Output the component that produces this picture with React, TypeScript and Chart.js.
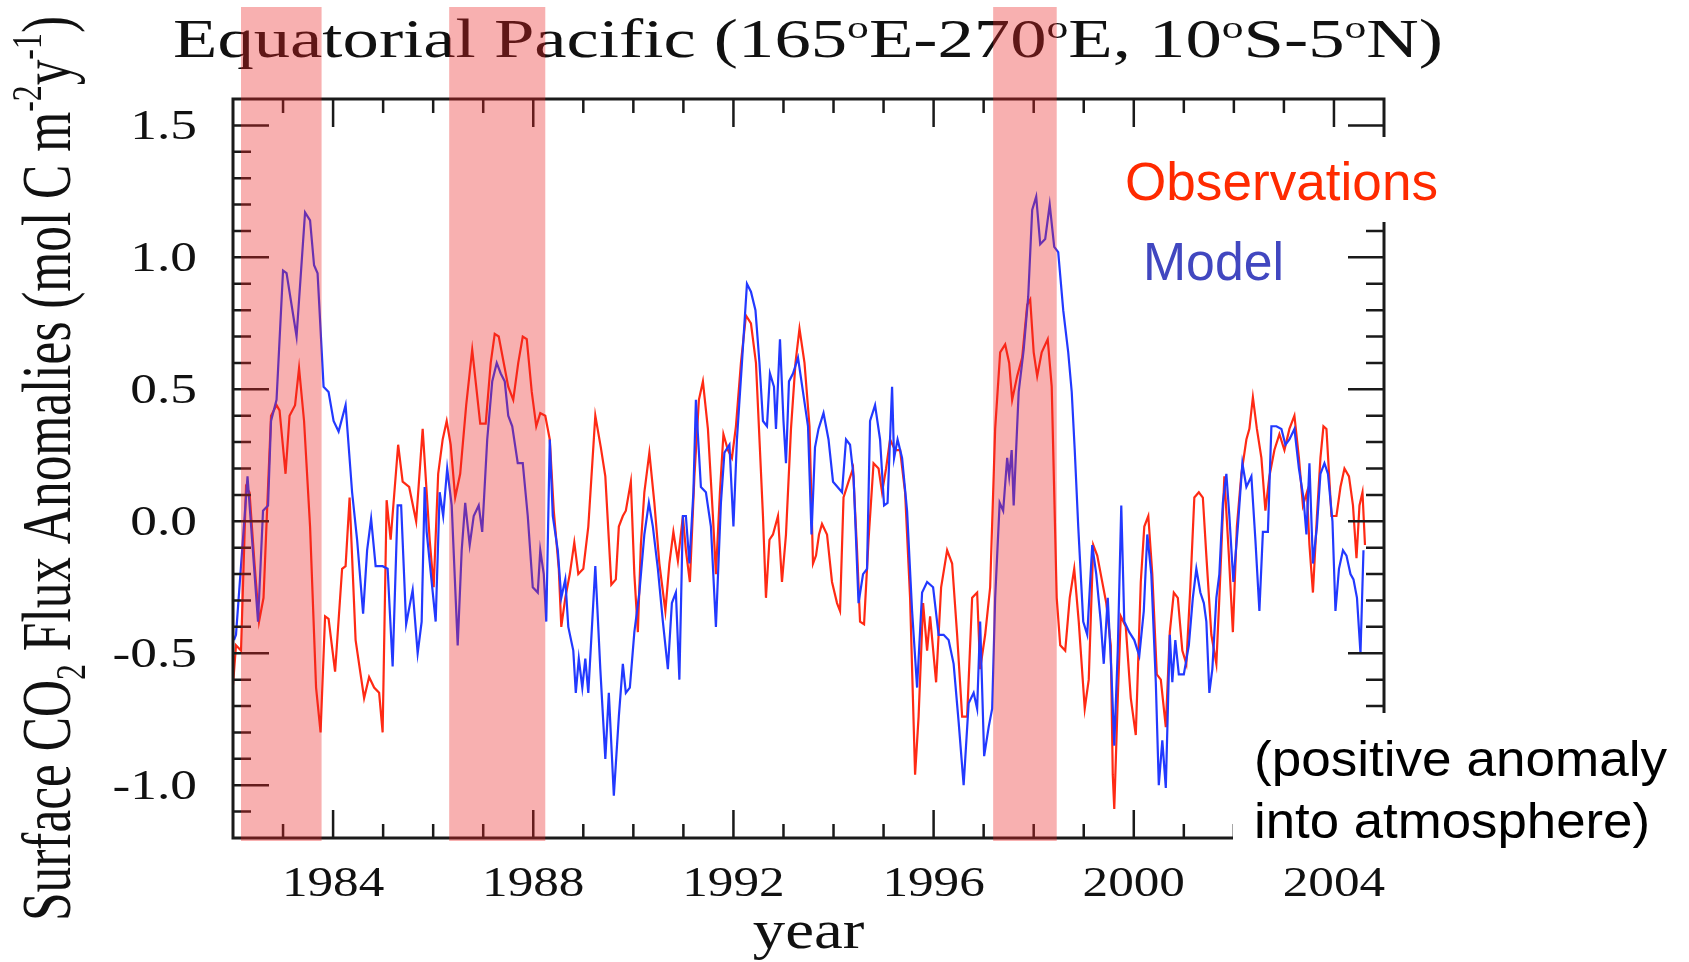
import React, { useEffect, useRef } from 'react';
import { Chart, registerables } from 'chart.js';

Chart.register(...registerables);

// ---------- data ----------
const xRange = [1982, 2005];
const yRange = [-1.2, 1.6];
const xTickLabels = ['1984', '1988', '1992', '1996', '2000', '2004'];
const yTickLabels = ['-1.0', '-0.5', '0.0', '0.5', '1.0', '1.5'];
const elNinoStart = [1982.16, 1986.32, 1997.19];
const elNinoEnd = [1983.77, 1988.24, 1998.46];

const observations: [number, number][] = [
  [1982.0, -0.62], [1982.06, -0.47], [1982.16, -0.49], [1982.26, 0.13], [1982.33, 0.11], [1982.43, -0.16],
  [1982.52, -0.38], [1982.61, -0.29], [1982.7, 0.13], [1982.76, 0.4], [1982.87, 0.44], [1982.93, 0.42],
  [1983.05, 0.18], [1983.13, 0.4], [1983.24, 0.44], [1983.32, 0.58], [1983.42, 0.38], [1983.54, -0.02],
  [1983.66, -0.63], [1983.75, -0.8], [1983.84, -0.36], [1983.91, -0.37], [1984.04, -0.57], [1984.18, -0.18],
  [1984.25, -0.17], [1984.33, 0.09], [1984.45, -0.45], [1984.55, -0.58], [1984.62, -0.67], [1984.72, -0.59],
  [1984.82, -0.63], [1984.92, -0.65], [1984.99, -0.8], [1985.07, 0.08], [1985.15, -0.07], [1985.3, 0.29],
  [1985.39, 0.15], [1985.52, 0.13], [1985.66, 0.0], [1985.79, 0.35], [1985.87, 0.11], [1985.93, -0.07],
  [1986.01, -0.25], [1986.1, 0.18], [1986.19, 0.31], [1986.27, 0.38], [1986.35, 0.29], [1986.44, 0.09],
  [1986.54, 0.18], [1986.66, 0.44], [1986.78, 0.65], [1986.86, 0.51], [1986.94, 0.37], [1987.05, 0.37],
  [1987.15, 0.6], [1987.23, 0.71], [1987.31, 0.7], [1987.4, 0.61], [1987.5, 0.51], [1987.6, 0.46],
  [1987.7, 0.6], [1987.79, 0.7], [1987.87, 0.69], [1987.97, 0.49], [1988.06, 0.36], [1988.14, 0.41],
  [1988.24, 0.4], [1988.33, 0.31], [1988.41, 0.04], [1988.51, -0.18], [1988.56, -0.4], [1988.64, -0.29],
  [1988.73, -0.2], [1988.82, -0.08], [1988.9, -0.2], [1989.0, -0.18], [1989.1, -0.02], [1989.24, 0.4],
  [1989.35, 0.28], [1989.44, 0.17], [1989.56, -0.24], [1989.65, -0.22], [1989.71, -0.02], [1989.79, 0.02],
  [1989.85, 0.04], [1989.95, 0.15], [1990.02, -0.2], [1990.09, -0.42], [1990.15, -0.09], [1990.22, 0.11],
  [1990.32, 0.26], [1990.42, 0.07], [1990.52, -0.16], [1990.64, -0.34], [1990.72, -0.16], [1990.8, -0.04],
  [1990.89, -0.15], [1990.99, 0.02], [1991.05, -0.11], [1991.13, -0.23], [1991.22, 0.17], [1991.31, 0.46],
  [1991.39, 0.53], [1991.49, 0.35], [1991.59, 0.02], [1991.65, -0.2], [1991.73, 0.11], [1991.8, 0.33],
  [1991.89, 0.27], [1991.97, 0.24], [1992.05, 0.36], [1992.15, 0.6], [1992.25, 0.78], [1992.35, 0.75],
  [1992.45, 0.6], [1992.53, 0.27], [1992.59, 0.02], [1992.65, -0.29], [1992.72, -0.07], [1992.79, -0.05],
  [1992.89, 0.02], [1992.97, -0.23], [1993.05, -0.05], [1993.15, 0.35], [1993.24, 0.6], [1993.32, 0.73],
  [1993.42, 0.6], [1993.52, 0.36], [1993.59, -0.16], [1993.65, -0.13], [1993.71, -0.05], [1993.77, -0.01],
  [1993.87, -0.05], [1993.97, -0.23], [1994.07, -0.31], [1994.13, -0.34], [1994.2, 0.09], [1994.3, 0.15],
  [1994.39, 0.2], [1994.47, -0.11], [1994.53, -0.38], [1994.61, -0.39], [1994.7, -0.07], [1994.8, 0.22],
  [1994.9, 0.2], [1994.97, 0.11], [1995.05, 0.2], [1995.13, 0.31], [1995.23, 0.27], [1995.33, 0.27],
  [1995.43, 0.11], [1995.53, -0.29], [1995.63, -0.96], [1995.7, -0.74], [1995.79, -0.31], [1995.87, -0.49],
  [1995.93, -0.36], [1996.05, -0.61], [1996.15, -0.25], [1996.27, -0.11], [1996.37, -0.16], [1996.47, -0.43],
  [1996.57, -0.74], [1996.67, -0.74], [1996.77, -0.29], [1996.87, -0.27], [1996.93, -0.56], [1997.03, -0.43],
  [1997.13, -0.25], [1997.23, 0.35], [1997.33, 0.64], [1997.43, 0.67], [1997.51, 0.6], [1997.57, 0.46],
  [1997.67, 0.55], [1997.77, 0.62], [1997.87, 0.82], [1997.93, 0.84], [1998.0, 0.64], [1998.07, 0.55],
  [1998.16, 0.64], [1998.28, 0.69], [1998.36, 0.51], [1998.46, -0.29], [1998.53, -0.47], [1998.63, -0.49],
  [1998.72, -0.29], [1998.81, -0.18], [1998.9, -0.38], [1999.02, -0.71], [1999.1, -0.6], [1999.19, -0.09],
  [1999.27, -0.13], [1999.36, -0.22], [1999.45, -0.31], [1999.54, -0.47], [1999.58, -0.96], [1999.61, -1.09],
  [1999.68, -0.67], [1999.74, -0.36], [1999.84, -0.4], [1999.94, -0.67], [2000.04, -0.81], [2000.14, -0.23],
  [2000.21, -0.02], [2000.29, 0.02], [2000.37, -0.2], [2000.46, -0.58], [2000.54, -0.6], [2000.64, -0.78],
  [2000.72, -0.42], [2000.8, -0.27], [2000.88, -0.29], [2000.97, -0.49], [2001.05, -0.54], [2001.13, -0.25],
  [2001.21, 0.09], [2001.3, 0.11], [2001.38, 0.09], [2001.45, -0.13], [2001.55, -0.43], [2001.65, -0.54],
  [2001.71, -0.29], [2001.81, 0.17], [2001.9, -0.13], [2001.98, -0.42], [2002.06, -0.02], [2002.15, 0.18],
  [2002.25, 0.31], [2002.31, 0.35], [2002.38, 0.47], [2002.46, 0.35], [2002.55, 0.24], [2002.63, 0.04],
  [2002.71, 0.17], [2002.81, 0.27], [2002.91, 0.33], [2003.01, 0.27], [2003.11, 0.35], [2003.21, 0.4],
  [2003.3, 0.24], [2003.38, 0.06], [2003.46, 0.11], [2003.51, -0.09], [2003.58, -0.27], [2003.66, 0.02],
  [2003.73, 0.24], [2003.79, 0.36], [2003.85, 0.35], [2003.95, 0.02], [2004.05, 0.02], [2004.13, 0.13],
  [2004.21, 0.2], [2004.3, 0.17], [2004.38, 0.06], [2004.45, -0.14], [2004.51, 0.06], [2004.57, 0.11],
  [2004.62, -0.09],
];

const model: [number, number][] = [
  [1982.02, -0.45], [1982.06, -0.43], [1982.29, 0.17], [1982.5, -0.38], [1982.6, 0.04], [1982.7, 0.06],
  [1982.76, 0.38], [1982.87, 0.46], [1983.0, 0.95], [1983.07, 0.94], [1983.27, 0.7], [1983.44, 1.17],
  [1983.54, 1.14], [1983.62, 0.97], [1983.69, 0.94], [1983.81, 0.51], [1983.91, 0.49], [1984.01, 0.38],
  [1984.11, 0.34], [1984.25, 0.44], [1984.38, 0.11], [1984.48, -0.07], [1984.6, -0.35], [1984.68, -0.11],
  [1984.76, 0.01], [1984.85, -0.17], [1984.99, -0.17], [1985.09, -0.18], [1985.19, -0.55], [1985.29, 0.06],
  [1985.36, 0.06], [1985.46, -0.39], [1985.59, -0.26], [1985.69, -0.5], [1985.77, -0.38], [1985.83, 0.13],
  [1985.87, -0.04], [1986.05, -0.38], [1986.13, 0.11], [1986.2, 0.02], [1986.28, 0.2], [1986.37, 0.06],
  [1986.49, -0.47], [1986.57, -0.11], [1986.64, 0.07], [1986.73, -0.09], [1986.81, 0.02], [1986.91, 0.06],
  [1986.98, -0.04], [1987.08, 0.31], [1987.18, 0.53], [1987.27, 0.6], [1987.35, 0.56], [1987.43, 0.53],
  [1987.5, 0.4], [1987.58, 0.36], [1987.69, 0.22], [1987.79, 0.22], [1987.89, 0.02], [1987.99, -0.25],
  [1988.09, -0.27], [1988.14, -0.11], [1988.21, -0.2], [1988.26, -0.38], [1988.33, 0.31], [1988.39, 0.02],
  [1988.49, -0.11], [1988.56, -0.29], [1988.64, -0.22], [1988.7, -0.4], [1988.8, -0.49], [1988.85, -0.65],
  [1988.91, -0.52], [1988.98, -0.63], [1989.04, -0.52], [1989.1, -0.65], [1989.24, -0.17], [1989.34, -0.56],
  [1989.44, -0.9], [1989.51, -0.65], [1989.61, -1.04], [1989.71, -0.74], [1989.79, -0.54], [1989.85, -0.65],
  [1989.93, -0.63], [1990.02, -0.42], [1990.12, -0.27], [1990.22, -0.05], [1990.31, 0.07], [1990.39, -0.02],
  [1990.49, -0.18], [1990.59, -0.38], [1990.69, -0.56], [1990.77, -0.31], [1990.85, -0.27], [1990.92, -0.6],
  [1990.99, 0.02], [1991.05, 0.02], [1991.12, -0.16], [1991.2, 0.11], [1991.25, 0.46], [1991.35, 0.13],
  [1991.45, 0.11], [1991.55, -0.02], [1991.65, -0.4], [1991.75, 0.07], [1991.82, 0.26], [1991.92, 0.29],
  [1992.0, -0.02], [1992.07, 0.31], [1992.17, 0.6], [1992.27, 0.9], [1992.35, 0.87], [1992.44, 0.8],
  [1992.52, 0.6], [1992.59, 0.38], [1992.67, 0.36], [1992.73, 0.56], [1992.81, 0.51], [1992.85, 0.35],
  [1992.93, 0.69], [1993.0, 0.38], [1993.05, 0.22], [1993.11, 0.53], [1993.19, 0.56], [1993.29, 0.62],
  [1993.39, 0.49], [1993.49, 0.36], [1993.56, -0.05], [1993.63, 0.28], [1993.7, 0.35], [1993.8, 0.41],
  [1993.9, 0.31], [1993.99, 0.15], [1994.08, 0.13], [1994.17, 0.11], [1994.25, 0.31], [1994.33, 0.29],
  [1994.4, 0.17], [1994.5, -0.31], [1994.59, -0.2], [1994.67, -0.18], [1994.73, 0.38], [1994.83, 0.44],
  [1994.93, 0.31], [1995.01, 0.06], [1995.08, 0.07], [1995.17, 0.51], [1995.21, 0.24], [1995.28, 0.31],
  [1995.37, 0.24], [1995.47, 0.04], [1995.57, -0.34], [1995.67, -0.63], [1995.77, -0.27], [1995.87, -0.23],
  [1995.99, -0.25], [1996.1, -0.43], [1996.2, -0.43], [1996.3, -0.45], [1996.4, -0.54], [1996.5, -0.76],
  [1996.6, -1.0], [1996.7, -0.69], [1996.8, -0.65], [1996.87, -0.71], [1996.93, -0.38], [1997.01, -0.89],
  [1997.1, -0.78], [1997.17, -0.71], [1997.23, -0.29], [1997.32, 0.07], [1997.39, 0.04], [1997.47, 0.24],
  [1997.51, 0.17], [1997.56, 0.27], [1997.6, 0.06], [1997.7, 0.49], [1997.8, 0.65], [1997.89, 0.85],
  [1997.97, 1.18], [1998.05, 1.23], [1998.13, 1.05], [1998.23, 1.07], [1998.32, 1.2], [1998.41, 1.04],
  [1998.49, 1.02], [1998.59, 0.8], [1998.69, 0.64], [1998.76, 0.49], [1998.82, 0.27], [1998.89, -0.02],
  [1998.99, -0.38], [1999.07, -0.43], [1999.17, -0.09], [1999.25, -0.2], [1999.34, -0.38], [1999.4, -0.54],
  [1999.48, -0.29], [1999.55, -0.56], [1999.61, -0.85], [1999.68, -0.49], [1999.75, 0.06], [1999.81, -0.38],
  [1999.91, -0.42], [2000.01, -0.45], [2000.11, -0.51], [2000.2, -0.34], [2000.27, -0.05], [2000.35, -0.2],
  [2000.44, -0.61], [2000.5, -1.0], [2000.57, -0.83], [2000.64, -1.01], [2000.72, -0.43], [2000.77, -0.61],
  [2000.83, -0.45], [2000.9, -0.58], [2001.0, -0.58], [2001.1, -0.47], [2001.18, -0.29], [2001.25, -0.18],
  [2001.33, -0.27], [2001.4, -0.31], [2001.45, -0.38], [2001.51, -0.65], [2001.57, -0.56], [2001.65, -0.29],
  [2001.71, -0.2], [2001.78, 0.07], [2001.85, 0.18], [2001.91, 0.02], [2001.99, -0.23], [2002.08, -0.02],
  [2002.17, 0.22], [2002.25, 0.13], [2002.35, 0.17], [2002.43, -0.07], [2002.51, -0.34], [2002.58, -0.04],
  [2002.68, -0.04], [2002.75, 0.36], [2002.85, 0.36], [2002.95, 0.35], [2003.03, 0.29], [2003.11, 0.31],
  [2003.21, 0.35], [2003.3, 0.2], [2003.39, 0.09], [2003.45, -0.05], [2003.51, 0.22], [2003.58, -0.16],
  [2003.66, -0.02], [2003.73, 0.18], [2003.81, 0.22], [2003.88, 0.18], [2003.97, 0.0], [2004.03, -0.34],
  [2004.1, -0.18], [2004.18, -0.11], [2004.25, -0.13], [2004.33, -0.2], [2004.39, -0.22], [2004.46, -0.29],
  [2004.53, -0.5], [2004.59, -0.11],
];

// ---------- text helpers ----------
const SERIF = '"Liberation Serif", "Times New Roman", serif';
const SANS = '"Liberation Sans", Arial, sans-serif';

type Seg = { t: string; k?: number; dy?: number };

function richWidth(ctx: CanvasRenderingContext2D, segs: Seg[], size: number, family: string) {
  let w = 0;
  for (const s of segs) {
    ctx.font = `${size * (s.k ?? 1)}px ${family}`;
    w += ctx.measureText(s.t).width;
  }
  return w;
}

function drawRich(
  ctx: CanvasRenderingContext2D, segs: Seg[], size: number, family: string, color: string,
  x: number, y: number, sx: number, sy = 1,
) {
  ctx.save();
  ctx.translate(x, y);
  ctx.scale(sx, sy);
  ctx.fillStyle = color;
  ctx.textAlign = 'left';
  ctx.textBaseline = 'alphabetic';
  let cx = 0;
  for (const s of segs) {
    ctx.font = `${size * (s.k ?? 1)}px ${family}`;
    ctx.fillText(s.t, cx, (s.dy ?? 0) * size);
    cx += ctx.measureText(s.t).width;
  }
  ctx.restore();
}

function fitLeft(ctx: CanvasRenderingContext2D, segs: Seg[], size: number, family: string, color: string,
  left: number, baseline: number, width: number) {
  const w = richWidth(ctx, segs, size, family);
  drawRich(ctx, segs, size, family, color, left, baseline, width / w);
}

function stretched(ctx: CanvasRenderingContext2D, text: string, size: number, family: string, color: string,
  x: number, baseline: number, sx: number, align: 'left' | 'center' | 'right') {
  const w = richWidth(ctx, [{ t: text }], size, family) * sx;
  const x0 = align === 'center' ? x - w / 2 : align === 'right' ? x - w : x;
  drawRich(ctx, [{ t: text }], size, family, color, x0, baseline, sx);
}

const decorPlugin = {
  id: 'figureDecor',
  beforeDraw(chart: any) {
    const ctx = chart.ctx;
    ctx.save();
    ctx.fillStyle = '#ffffff';
    ctx.fillRect(0, 0, chart.width, chart.height);
    ctx.restore();
  },
  afterDatasetsDraw(chart: any) {
    const ctx: CanvasRenderingContext2D = chart.ctx;
    const { left, right, top, bottom } = chart.chartArea;
    const xs = chart.scales.x;
    const ys = chart.scales.y;
    const ink = '#1a1a1a';

    // frame
    ctx.save();
    ctx.strokeStyle = ink;
    ctx.lineWidth = 3;
    ctx.strokeRect(left, top, right - left, bottom - top);

    // ticks (pointing inward)
    ctx.lineWidth = 2.5;
    ctx.beginPath();
    for (let yr = Math.ceil(xRange[0]) + 1; yr < xRange[1]; yr++) {
      const px = xs.getPixelForValue(yr);
      const len = yr % 4 === 0 ? 28 : 14;
      ctx.moveTo(px, bottom); ctx.lineTo(px, bottom - len);
      ctx.moveTo(px, top); ctx.lineTo(px, top + len);
    }
    for (let k = Math.round(yRange[0] * 10) + 1; k < Math.round(yRange[1] * 10); k++) {
      const py = ys.getPixelForValue(k / 10);
      const len = k % 5 === 0 ? 36 : 18;
      ctx.moveTo(left, py); ctx.lineTo(left + len, py);
      ctx.moveTo(right, py); ctx.lineTo(right - len, py);
    }
    ctx.stroke();
    ctx.restore();

    // tick labels
    for (const lab of xTickLabels) {
      const px = xs.getPixelForValue(Number(lab));
      stretched(ctx, lab, 43, SERIF, '#111', px, 896, 1.19, 'center');
    }
    for (const lab of yTickLabels) {
      const py = ys.getPixelForValue(Number(lab));
      stretched(ctx, lab, 43, SERIF, '#111', 197, py + 14, 1.24, 'right');
    }

    // title
    const sup = 0.6;
    const titleSegs: Seg[] = [
      { t: 'Equatorial Pacific (165' }, { t: 'o', k: sup, dy: -0.36 }, { t: 'E-270' }, { t: 'o', k: sup, dy: -0.36 },
      { t: 'E, 10' }, { t: 'o', k: sup, dy: -0.36 }, { t: 'S-5' }, { t: 'o', k: sup, dy: -0.36 }, { t: 'N)' },
    ];
    fitLeft(ctx, titleSegs, 54, SERIF, '#111', 173, 57, 1270);

    // x axis title
    stretched(ctx, 'year', 54, SERIF, '#111', (left + right) / 2, 948, 1.2, 'center');

    // y axis title (rotated)
    const ySegs: Seg[] = [
      { t: 'Surface CO' }, { t: '2', k: 0.62, dy: 0.22 }, { t: ' Flux Anomalies (mol C m' },
      { t: '-2', k: 0.62, dy: -0.42 }, { t: 'y' }, { t: '-1', k: 0.62, dy: -0.42 }, { t: ')' },
    ];
    const yw = richWidth(ctx, ySegs, 52, SERIF);
    ctx.save();
    ctx.translate(70, 921);
    ctx.rotate(-Math.PI / 2);
    drawRich(ctx, ySegs, 52, SERIF, '#111', 0, 0, 905 / yw, 1.33);
    ctx.restore();

    // El Nino shading overlay
    ctx.save();
    ctx.fillStyle = 'rgba(236, 36, 36, 0.36)';
    const sTop = 7;
    const sBot = bottom + 3;
    for (let i = 0; i < elNinoStart.length; i++) {
      const x0 = xs.getPixelForValue(elNinoStart[i]);
      const x1 = xs.getPixelForValue(elNinoEnd[i]);
      ctx.fillRect(x0, sTop, x1 - x0, sBot - sTop);
    }
    ctx.restore();

    // overlay annotation boxes
    ctx.save();
    ctx.fillStyle = '#ffffff';
    ctx.fillRect(1110, 137, 350, 85);
    ctx.fillRect(1233, 713, 456, 143);
    ctx.restore();

    fitLeft(ctx, [{ t: 'Observations' }], 54, SANS, '#ff2a00', 1125, 200, 313);
    fitLeft(ctx, [{ t: 'Model' }], 53, SANS, '#4147c0', 1143, 280, 141);
    fitLeft(ctx, [{ t: '(positive anomaly' }], 50, SANS, '#000000', 1254, 776, 413);
    fitLeft(ctx, [{ t: 'into atmosphere)' }], 50, SANS, '#000000', 1254, 838, 396);
  },
};

export default function App() {
  const ref = useRef<HTMLCanvasElement | null>(null);
  useEffect(() => {
    const canvas = ref.current;
    if (!canvas) return;
    const chart = new Chart(canvas, {
      type: 'line',
      data: {
        datasets: [
          {
            label: 'Model',
            data: model.map(([x, y]) => ({ x, y })),
            borderColor: '#2239ff',
            borderWidth: 2.2,
            pointRadius: 0,
            tension: 0,
            fill: false,
          },
          {
            label: 'Observations',
            data: observations.map(([x, y]) => ({ x, y })),
            borderColor: '#ff2a14',
            borderWidth: 2.2,
            pointRadius: 0,
            tension: 0,
            fill: false,
          },
        ],
      },
      options: {
        animation: false,
        responsive: false,
        maintainAspectRatio: false,
        devicePixelRatio: 1,
        layout: { padding: { left: 233, right: 305, top: 99, bottom: 124 } },
        plugins: { legend: { display: false }, tooltip: { enabled: false } },
        events: [],
        scales: {
          x: { type: 'linear', min: xRange[0], max: xRange[1], display: false },
          y: { type: 'linear', min: yRange[0], max: yRange[1], display: false },
        },
      },
      plugins: [decorPlugin],
    });
    return () => chart.destroy();
  }, []);
  return (
    <div style={{ position: 'absolute', left: 0, top: 0, width: 1689, height: 962, background: '#fff' }}>
      <canvas ref={ref} width={1689} height={962} style={{ display: 'block', width: 1689, height: 962 }} />
    </div>
  );
}
